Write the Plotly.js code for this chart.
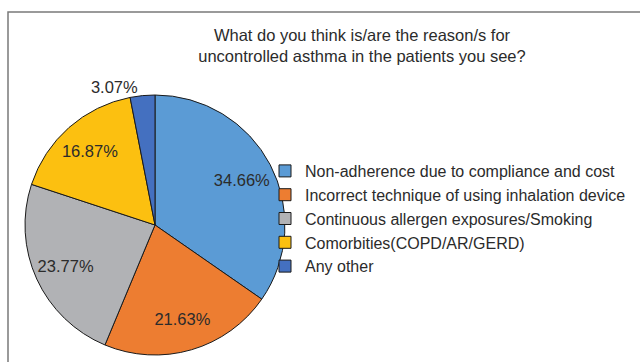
<!DOCTYPE html>
<html>
<head>
<meta charset="utf-8">
<script src="https://cdn.plot.ly/plotly-3.0.1.min.js"></script>
<style>html,body{margin:0;padding:0;background:#fff;}#chart{width:640px;height:362px;}</style>
</head>
<body>
<div id="chart"></div>
<script>
// Reasons for uncontrolled asthma (share of responses, %)
const categories = [
  "Non-adherence due to compliance and cost",
  "Incorrect technique of using inhalation device",
  "Continuous allergen exposures/Smoking",
  "Comorbities(COPD/AR/GERD)",
  "Any other"
];
const shares = [34.66, 21.63, 23.77, 16.87, 3.07];
const sliceColors = ["#5B9BD5", "#ED7D31", "#B1B2B5", "#FCC010", "#4470C0"];
const labelPositions = ["inside", "inside", "inside", "inside", "outside"];

const FONT = "Liberation Sans, Arial, sans-serif";
const INK = "#2b2b2b";
const pieDomain = { x: [25 / 640, 285 / 640], y: [7 / 362, 267 / 362] };

// Filled slices with the legend entries
const slices = {
  type: "pie",
  labels: categories,
  values: shares,
  textinfo: "none",
  sort: false,
  direction: "clockwise",
  rotation: 0,
  marker: { colors: sliceColors, line: { color: "#1a1a1a", width: 1 } },
  domain: pieDomain,
  hoverinfo: "label+percent"
};

// Transparent ring on top that carries the percentage labels toward the rim
const labelRing = {
  type: "pie",
  labels: categories,
  values: shares,
  text: shares.map(v => v.toFixed(2) + "%"),
  textinfo: "text",
  textposition: labelPositions,
  insidetextorientation: "horizontal",
  hole: 0.51,
  sort: false,
  direction: "clockwise",
  rotation: 0,
  showlegend: false,
  marker: { colors: shares.map(() => "rgba(0,0,0,0)"), line: { width: 0 } },
  textfont: { family: FONT, size: 16.5, color: INK },
  outsidetextfont: { family: FONT, size: 16.5, color: INK },
  domain: pieDomain,
  hoverinfo: "skip"
};

const layout = {
  width: 640,
  height: 362,
  margin: { l: 0, r: 0, t: 0, b: 0, autoexpand: false },
  paper_bgcolor: "#ffffff",
  font: { family: FONT, color: INK },
  title: {
    text: "What do you think is/are the reason/s for<br>uncontrolled asthma in the patients you see?",
    font: { family: FONT, size: 16.5, color: INK },
    x: 362 / 640,
    xanchor: "center",
    xref: "paper",
    y: 1 - 41 / 362,
    yref: "container",
    yanchor: "top",
    pad: { t: 0, b: 0 }
  },
  showlegend: true,
  legend: {
    x: 265 / 640,
    xanchor: "left",
    y: 1 - 154 / 362,
    yanchor: "top",
    font: { family: FONT, size: 16, color: INK },
    bgcolor: "rgba(0,0,0,0)",
    itemwidth: 30
  },
  shapes: [{
    type: "rect",
    xref: "paper", yref: "paper",
    x0: 8 / 640, x1: 1.05,
    y0: -0.05, y1: 1 - 12 / 362,
    line: { color: "#7a7a7a", width: 1.5 },
    fillcolor: "rgba(0,0,0,0)",
    layer: "below"
  }]
};

Plotly.newPlot("chart", [slices, labelRing], layout, { staticPlot: true, displayModeBar: false });
</script>
</body>
</html>
